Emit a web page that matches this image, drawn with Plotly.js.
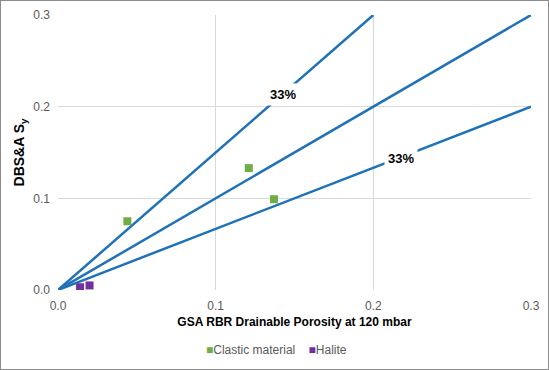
<!DOCTYPE html>
<html><head><meta charset="utf-8">
<script src="https://cdn.plot.ly/plotly-3.0.1.min.js"></script>
<style>html,body{margin:0;padding:0;background:#fff}
#frame{position:absolute;left:0;top:0;width:547px;height:368px;border:1px solid #8c8c8c}
#chart{width:547px;height:368px}</style>
</head><body><div id="frame"><div id="chart"></div></div>
<script>
// Data
const clasticX = [0.044, 0.121, 0.137];
const clasticY = [0.075, 0.133, 0.099];
const haliteX = [0.014, 0.020];
const haliteY = [0.003, 0.005];
// Reference lines (1:1 and ±33%)
const upperX = [0, 0.2];   const upperY = [0, 0.3];
const oneX = [0, 0.3];     const oneY = [0, 0.3];
const lowerX = [0, 0.3];   const lowerY = [0, 0.2];
const labelText = ['33%', '33%'];
const labelX = [0.1425, 0.2175];
const labelY = [0.2135, 0.1435];
const tickVals = [0, 0.1, 0.2, 0.3];
const seriesNames = ['Clastic material', 'Halite'];
const seriesColors = ['#70ad47', '#7030a0'];

const lineColor = '#1f72b8';
const lineStyle = {color: lineColor, width: 2.5};
const FONT = 'Liberation Sans, Arial, sans-serif';
const traces = [
  {x: upperX, y: upperY, mode: 'lines', line: lineStyle, showlegend: false, hoverinfo: 'skip'},
  {x: oneX, y: oneY, mode: 'lines', line: lineStyle, showlegend: false, hoverinfo: 'skip'},
  {x: lowerX, y: lowerY, mode: 'lines', line: lineStyle, showlegend: false, hoverinfo: 'skip'},
  {x: clasticX, y: clasticY, mode: 'markers', name: seriesNames[0], showlegend: false,
   marker: {symbol: 'square', size: 8, color: seriesColors[0]}},
  {x: haliteX, y: haliteY, mode: 'markers', name: seriesNames[1], showlegend: false,
   marker: {symbol: 'square', size: 8, color: seriesColors[1]}}
];
const annotations = labelText.map((t, i) => ({
  x: labelX[i], y: labelY[i], xref: 'x', yref: 'y', text: '<b>' + t + '</b>',
  showarrow: false, bgcolor: '#ffffff', font: {family: FONT, size: 13, color: '#000'},
  borderpad: 3
}));
// legend drawn as text entries
annotations.push({
  xref: 'paper', yref: 'paper', x: 0.463, y: -0.218, xanchor: 'center', yanchor: 'middle',
  showarrow: false, font: {family: FONT, size: 12, color: '#595959'},
  text: seriesNames.map((n, i) => '<span style="color:' + seriesColors[i] + '">■</span>' + n).join('\u00a0\u00a0\u00a0\u00a0')
});
const tickFont = {family: FONT, size: 12, color: '#595959'};
const layout = {
  width: 547, height: 368,
  margin: {l: 57, r: 17, t: 14, b: 79},
  paper_bgcolor: '#fff', plot_bgcolor: '#fff',
  showlegend: false,
  xaxis: {range: [0, 0.3], tickvals: tickVals, tickformat: '.1f', showgrid: true,
          gridcolor: '#d9d9d9', gridwidth: 1, zeroline: false, showline: false,
          ticks: '', tickfont: tickFont, automargin: false, ticklabelstandoff: 7,
          title: {text: '<b>GSA RBR Drainable Porosity at 120 mbar</b>', standoff: 5,
                  font: {family: FONT, size: 12, color: '#000'}}},
  yaxis: {range: [0, 0.3], tickvals: tickVals, tickformat: '.1f', showgrid: true,
          gridcolor: '#d9d9d9', gridwidth: 1, zeroline: false, showline: false,
          ticks: '', tickfont: tickFont, automargin: false, ticklabelstandoff: 7,
          title: {text: '<b>DBS&A S<sub>y</sub></b>', standoff: 5,
                  font: {family: FONT, size: 14, color: '#000'}}},
  annotations: annotations
};
Plotly.newPlot('chart', traces, layout, {displayModeBar: false, staticPlot: true});
</script></body></html>
